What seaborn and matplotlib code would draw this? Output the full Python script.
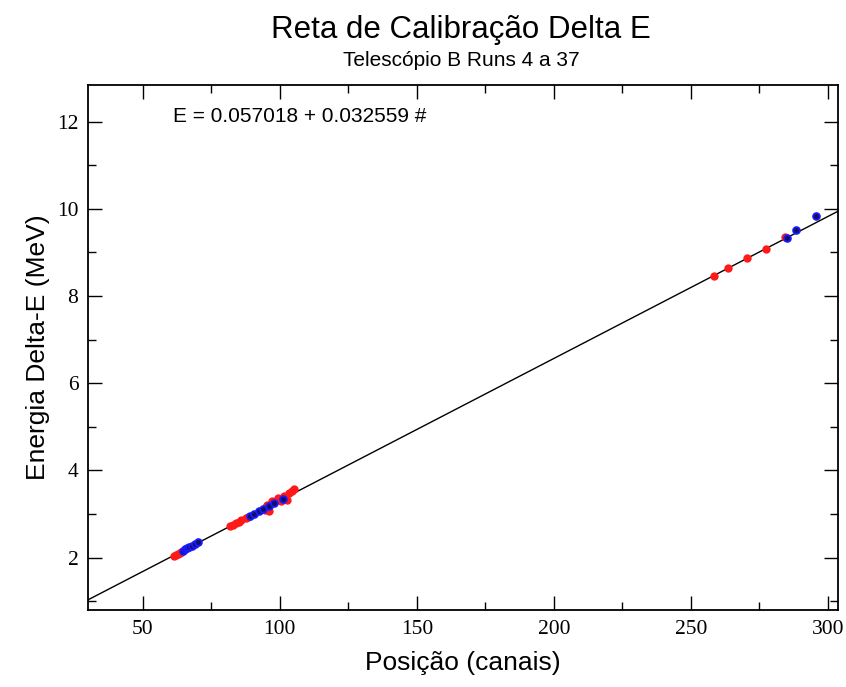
import numpy as np
import pandas as pd
import matplotlib
matplotlib.use("Agg")
import matplotlib.pyplot as plt
import seaborn as sns
from matplotlib.ticker import MultipleLocator

sns.set_theme(style="white")
plt.rcParams['font.family'] = ['Liberation Sans', 'DejaVu Sans']

# ---- data ----
red_x = [61.5, 62.2, 62.8, 63.4, 64.0,
         82.0, 83.0, 84.0, 85.0, 86.0, 87.5, 88.5,
         94.5, 95.0, 95.5, 96.0, 97.0, 99.5, 100.5, 101.5, 102.5, 103.5, 104.5, 105.0,
         258.4, 263.5, 270.4, 277.3, 284.2]
red_y = [2.04, 2.07, 2.09, 2.11, 2.13,
         2.72, 2.75, 2.79, 2.82, 2.86, 2.90, 2.94,
         3.10, 3.16, 3.22, 3.08, 3.30, 3.38, 3.30, 3.42, 3.33, 3.48, 3.52, 3.58,
         8.45, 8.64, 8.87, 9.07, 9.35]
blue_x = [64.5, 65.3, 66.0, 67.0, 68.0, 69.0, 70.2,
          89.0, 90.5, 92.5, 94.0, 96.0, 98.0, 101.0,
          285.2, 288.3, 295.5]
blue_y = [2.16, 2.20, 2.22, 2.25, 2.28, 2.31, 2.35,
          2.96, 3.00, 3.07, 3.12, 3.18, 3.25, 3.35,
          9.34, 9.51, 9.83]
fit_intercept = 0.057018
fit_slope = 0.032559
x_range = [30.0, 303.5]
y_range = [0.8, 12.85]
x_ticks = [50, 100, 150, 200, 250, 300]
y_ticks = [2, 4, 6, 8, 10, 12]

fig = plt.figure(figsize=(8.46, 6.87), dpi=100)
ax = fig.add_axes([0.104, 0.112, 0.886, 0.765])

line_df = pd.DataFrame({"x": x_range,
                        "y": [fit_intercept + fit_slope * v for v in x_range]})
sns.lineplot(data=line_df, x="x", y="y", ax=ax, color="black", linewidth=1.0)

red_df = pd.DataFrame({"x": red_x, "y": red_y})
blue_df = pd.DataFrame({"x": blue_x, "y": blue_y})
sns.scatterplot(data=red_df, x="x", y="y", ax=ax, color="#ff1a1a", s=36,
                edgecolor="#ff1a1a", linewidth=0, zorder=3)
sns.scatterplot(data=blue_df, x="x", y="y", ax=ax, color="#101060", s=24,
                edgecolor="#1a1aff", linewidth=1.3, zorder=4)

ax.set_xlim(*x_range)
ax.set_ylim(*y_range)
ax.set_xticks(x_ticks)
ax.set_yticks(y_ticks)
ax.xaxis.set_minor_locator(MultipleLocator(25))
ax.yaxis.set_minor_locator(MultipleLocator(1))
ax.tick_params(which="both", direction="in", top=True, right=True,
               bottom=True, left=True, color="black")
ax.tick_params(which="major", length=10, width=1.0, pad=7)
ax.tick_params(which="minor", length=5.5, width=1.0)
for lab in ax.get_xticklabels() + ax.get_yticklabels():
    lab.set_fontfamily(["Liberation Serif", "DejaVu Serif"])
    lab.set_fontsize(15.5)
    lab.set_color("black")
for sp in ax.spines.values():
    sp.set_color("black")
    sp.set_linewidth(1.3)

ax.set_xlabel("Posição (canais)", fontsize=19, labelpad=9, color="black")
ax.set_ylabel("Energia Delta-E (MeV)", fontsize=19, labelpad=5, color="black")

fig.text(0.545, 0.957, "Reta de Calibração Delta E", ha="center", va="center",
         fontsize=22.5, color="black")
fig.text(0.545, 0.912, "Telescópio B Runs 4 a 37", ha="center", va="center",
         fontsize=15, color="black")
ax.text(0.113, 0.94, "E = 0.057018 + 0.032559 #", transform=ax.transAxes,
        ha="left", va="center", fontsize=15, color="black")

fig.savefig("out.png", dpi=100)
